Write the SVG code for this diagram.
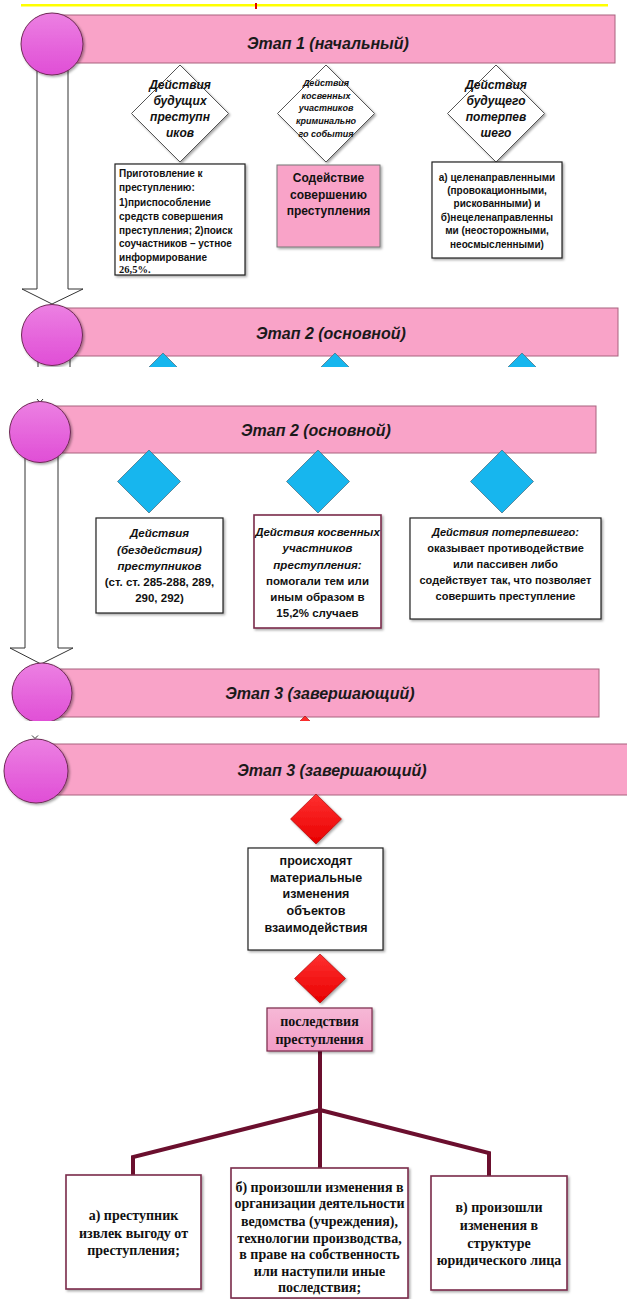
<svg xmlns="http://www.w3.org/2000/svg" width="627" height="1299" viewBox="0 0 627 1299">
<defs>
<style>
.banner{fill:#F9A3C8;stroke:#A8627F;stroke-width:1}
.circ{fill:url(#cg);stroke:#6E2A55;stroke-width:1}
.title{font-family:"Liberation Sans",Arial,sans-serif;font-weight:bold;font-style:italic;font-size:16px;fill:#1a1a1a;text-anchor:middle}
.wd{fill:#fff;stroke:#555;stroke-width:1}
.bd{fill:#17B6EE;stroke:#4d7388;stroke-width:0.8}
.rd{fill:url(#rg);stroke:#a00000;stroke-width:0.6}
.box{fill:#fff;stroke:#222;stroke-width:1.2}
.pbox{fill:#F9A3C8;stroke:#777;stroke-width:1}
.mbox{fill:#fff;stroke:#7A2A4A;stroke-width:1.6}
.ppbox{fill:url(#pg);stroke:#7A2A4A;stroke-width:1.2}
.arrow{fill:#fff;stroke:#333;stroke-width:1}
.conn{fill:none;stroke:#6B0F2E;stroke-width:4;stroke-linejoin:miter}
.t{font-family:"Liberation Sans",Arial,sans-serif;font-weight:bold;fill:#111;text-anchor:middle}
.tl{font-family:"Liberation Sans",Arial,sans-serif;font-weight:bold;fill:#111;font-size:10px}
.it{font-style:italic}
.s{font-family:"Liberation Serif","Times New Roman",serif;font-weight:bold;fill:#111;text-anchor:middle;font-size:14px}
</style>
<linearGradient id="cg" x1="0" y1="0" x2="0" y2="1">
<stop offset="0" stop-color="#EC80E2"/>
<stop offset="1" stop-color="#E04ED6"/>
</linearGradient>
<linearGradient id="rg" x1="0" y1="0" x2="0" y2="1">
<stop offset="0" stop-color="#FF3030"/>
<stop offset="1" stop-color="#E80000"/>
</linearGradient>
<linearGradient id="pg" x1="0" y1="0" x2="0" y2="1">
<stop offset="0" stop-color="#F6B8D6"/>
<stop offset="1" stop-color="#F39CC6"/>
</linearGradient>
<filter id="sh" x="-10%" y="-10%" width="130%" height="130%">
<feDropShadow dx="1.5" dy="1.5" stdDeviation="1" flood-color="#000" flood-opacity="0.35"/>
</filter>
<clipPath id="c1"><rect x="0" y="0" width="627" height="367"/></clipPath>
<clipPath id="c2"><rect x="0" y="368" width="627" height="353"/></clipPath>
<clipPath id="c3"><rect x="0" y="722" width="627" height="577"/></clipPath>
</defs>
<rect width="627" height="1299" fill="#fff"/>

<!-- top highlight remnant -->
<rect x="21" y="4" width="587" height="2.5" fill="#FFFF00"/>
<rect x="255" y="3" width="2" height="6" fill="#E00000"/>

<!-- ===== Slice 1 ===== -->
<g clip-path="url(#c1)">
<g id="connectors-1">
<polygon class="arrow" points="37,60 68,60 68,289 83,289 52,304 22,289 37,289"/>
<line x1="38" y1="350" x2="38" y2="367" stroke="#333" stroke-width="1"/>
<line x1="70" y1="350" x2="70" y2="367" stroke="#333" stroke-width="1"/>
</g>
<g id="stage1">
<rect class="banner" x="52" y="15" width="563" height="48"/>
<circle class="circ" cx="52" cy="44" r="31" filter="url(#sh)"/>
<text class="title" x="328" y="49">Этап 1 (начальный)</text>
</g>
<g id="s1-d1">
<polygon class="wd" points="180,65 228.5,113.5 180,162 131.5,113.5" filter="url(#sh)"/>
<text class="t it" font-size="12"><tspan x="180" y="89">Действия</tspan><tspan x="180" y="105">будущих</tspan><tspan x="180" y="121">преступн</tspan><tspan x="180" y="137">иков</tspan></text>
</g>
<g id="s1-d2">
<polygon class="wd" points="326,65 374.5,113.5 326,162 277.5,113.5" filter="url(#sh)"/>
<text class="t it" font-size="9"><tspan x="326" y="86">Действия</tspan><tspan x="326" y="98.5">косвенных</tspan><tspan x="326" y="111">участников</tspan><tspan x="326" y="124">криминально</tspan><tspan x="326" y="136.5">го события</tspan></text>
</g>
<g id="s1-d3">
<polygon class="wd" points="496,65 544.5,113.5 496,162 447.5,113.5" filter="url(#sh)"/>
<text class="t it" font-size="12"><tspan x="496" y="89">Действия</tspan><tspan x="496" y="105">будущего</tspan><tspan x="496" y="121">потерпев</tspan><tspan x="496" y="137">шего</tspan></text>
</g>
<g id="s1-b1">
<rect class="box" x="115" y="164" width="130" height="111" filter="url(#sh)"/>
<text class="tl"><tspan x="119" y="177">Приготовление к</tspan><tspan x="119" y="191">преступлению:</tspan><tspan x="119" y="205.5">1)приспособление</tspan><tspan x="119" y="219.5">средств совершения</tspan><tspan x="119" y="233.5">преступления; 2)поиск</tspan><tspan x="119" y="247">соучастников – устное</tspan><tspan x="119" y="260.5">информирование</tspan></text>
<text x="119" y="273" font-family="Liberation Serif,Times New Roman,serif" font-weight="bold" font-size="10.5" fill="#111">26,5%.</text>
</g>
<g id="s1-b2">
<rect class="pbox" x="277" y="165" width="103" height="82" filter="url(#sh)"/>
<text class="t" font-size="12"><tspan x="328.5" y="182">Содействие</tspan><tspan x="328.5" y="198.5">совершению</tspan><tspan x="328.5" y="215">преступления</tspan></text>
</g>
<g id="s1-b3">
<rect class="box" x="432" y="162" width="130" height="96" filter="url(#sh)"/>
<text class="t" font-size="10"><tspan x="497" y="180.5">а) целенаправленными</tspan><tspan x="497" y="194">(провокационными,</tspan><tspan x="497" y="207.3">рискованными) и</tspan><tspan x="497" y="220.7">б)нецеленаправленны</tspan><tspan x="497" y="234">ми (неосторожными,</tspan><tspan x="497" y="247.5">неосмысленными)</tspan></text>
</g>
<g id="stage2a">
<rect class="banner" x="52" y="308" width="566" height="48"/>
<circle class="circ" cx="52" cy="335" r="30.5" filter="url(#sh)"/>
<text class="title" x="331" y="339">Этап 2 (основной)</text>
<polygon class="bd" points="163,353 194.5,384.5 163,416 131.5,384.5"/>
<polygon class="bd" points="335,353 366.5,384.5 335,416 303.5,384.5"/>
<polygon class="bd" points="522,353 553.5,384.5 522,416 490.5,384.5"/>
</g>
</g>

<!-- ===== Slice 2 ===== -->
<g clip-path="url(#c2)">
<g id="connectors-2">
<polygon class="arrow" points="25,450 58,450 58,648 73,648 41,664 10,648 25,648"/>
<polyline points="37,399 40,402.5 43,399" fill="none" stroke="#333" stroke-width="1"/>
</g>
<g id="stage2b">
<rect class="banner" x="40" y="406" width="556" height="47"/>
<circle class="circ" cx="40" cy="432" r="30.5" filter="url(#sh)"/>
<text class="title" x="316" y="436">Этап 2 (основной)</text>
</g>
<g id="s2-d1"><polygon class="bd" points="149,450 180.5,481.5 149,513 117.5,481.5"/></g>
<g id="s2-d2"><polygon class="bd" points="318,450 349.5,481.5 318,513 286.5,481.5"/></g>
<g id="s2-d3"><polygon class="bd" points="502,450 533.5,481.5 502,513 470.5,481.5"/></g>
<g id="s2-b1">
<rect class="box" x="96" y="518" width="127" height="95" filter="url(#sh)"/>
<text class="t" font-size="11.5"><tspan class="it" x="159.5" y="537">Действия</tspan><tspan class="it" x="159.5" y="553.5">(бездействия)</tspan><tspan class="it" x="159.5" y="570">преступников</tspan><tspan x="159.5" y="586">(ст. ст. 285-288, 289,</tspan><tspan x="159.5" y="602">290, 292)</tspan></text>
</g>
<g id="s2-b2">
<rect class="mbox" x="254" y="515" width="127" height="113" filter="url(#sh)"/>
<text class="t" font-size="11.5"><tspan class="it" x="317.5" y="536">Действия косвенных</tspan><tspan class="it" x="317.5" y="552">участников</tspan><tspan class="it" x="317.5" y="569">преступления:</tspan><tspan x="317.5" y="585">помогали тем или</tspan><tspan x="317.5" y="601">иным образом в</tspan><tspan x="317.5" y="617">15,2% случаев</tspan></text>
</g>
<g id="s2-b3">
<rect class="box" x="410" y="518" width="191" height="101" filter="url(#sh)"/>
<text class="t" font-size="11"><tspan class="it" x="505.5" y="536">Действия потерпевшего:</tspan><tspan x="505.5" y="552">оказывает противодействие</tspan><tspan x="505.5" y="568">или пассивен либо</tspan><tspan x="505.5" y="584">содействует так, что позволяет</tspan><tspan x="505.5" y="600">совершить преступление</tspan></text>
</g>
<g id="stage3a">
<rect class="banner" x="42" y="669" width="557" height="48"/>
<polygon class="rd" points="305,716 330,741 305,766 280,741"/>
<circle class="circ" cx="42" cy="693" r="30" filter="url(#sh)"/>
<text class="title" x="320" y="698.5">Этап 3 (завершающий)</text>
</g>
</g>

<!-- ===== Slice 3 ===== -->
<g clip-path="url(#c3)">
<g id="stage3b">
<polyline points="32,735.5 35,738.5 38,735.5" fill="none" stroke="#333" stroke-width="1"/>
<rect class="banner" x="36" y="744" width="600" height="51"/>
<circle class="circ" cx="36" cy="771" r="32" filter="url(#sh)"/>
<text class="title" x="332" y="776" font-size="17">Этап 3 (завершающий)</text>
</g>
<g id="connectors-3">
<path class="conn" d="M320,1051 V1110 M320,1110 L133,1157 V1175 M320,1110 V1168 M320,1110 L489,1153 V1176"/>
</g>
<g id="s3-d1"><polygon class="rd" points="316,794 341.5,819 316,844 290.5,819" filter="url(#sh)"/></g>
<g id="s3-b1">
<rect class="box" x="248" y="848" width="135" height="102" filter="url(#sh)"/>
<text class="t" font-size="12.5"><tspan x="316" y="864.5">происходят</tspan><tspan x="316" y="881.5">материальные</tspan><tspan x="316" y="897.5">изменения</tspan><tspan x="316" y="914.5">объектов</tspan><tspan x="316" y="931.5">взаимодействия</tspan></text>
</g>
<g id="s3-d2"><polygon class="rd" points="320,954 345.5,978.5 320,1003 294.5,978.5" filter="url(#sh)"/></g>
<g id="s3-b2">
<rect class="ppbox" x="267" y="1008" width="105" height="43" filter="url(#sh)"/>
<text class="s"><tspan x="319.5" y="1025.5">последствия</tspan><tspan x="319.5" y="1043.5">преступления</tspan></text>
</g>
<g id="s3-ba">
<rect class="mbox" x="66" y="1175" width="135" height="114" filter="url(#sh)"/>
<text class="s"><tspan x="133.5" y="1219.5">а) преступник</tspan><tspan x="133.5" y="1237.5">извлек выгоду от</tspan><tspan x="133.5" y="1254.5">преступления;</tspan></text>
</g>
<g id="s3-bb">
<rect class="mbox" x="231" y="1168" width="177" height="130" filter="url(#sh)"/>
<text class="s"><tspan x="319.5" y="1191.5">б) произошли изменения в</tspan><tspan x="319.5" y="1208">организации деятельности</tspan><tspan x="319.5" y="1225.5">ведомства (учреждения),</tspan><tspan x="319.5" y="1242.5">технологии производства,</tspan><tspan x="319.5" y="1258.5">в праве на собственность</tspan><tspan x="319.5" y="1275.5">или наступили иные</tspan><tspan x="319.5" y="1291.5">последствия;</tspan></text>
</g>
<g id="s3-bc">
<rect class="mbox" x="431" y="1176" width="136" height="114" filter="url(#sh)"/>
<text class="s"><tspan x="499" y="1211.5">в) произошли</tspan><tspan x="499" y="1229.5">изменения в</tspan><tspan x="499" y="1247.5">структуре</tspan><tspan x="499" y="1264.5">юридического лица</tspan></text>
</g>
</g>
</svg>
